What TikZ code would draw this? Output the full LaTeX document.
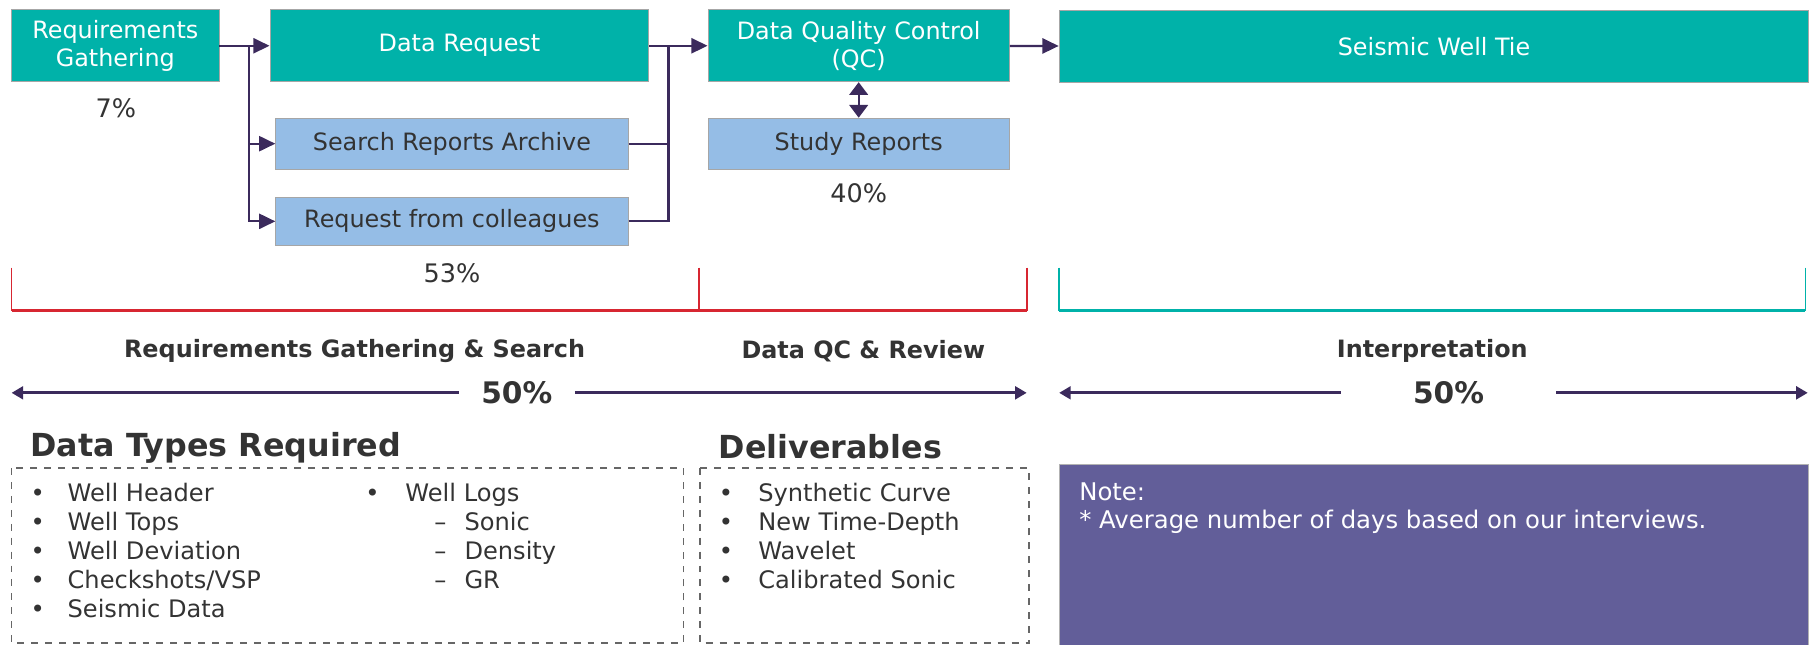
\documentclass[tikz,border=0pt]{standalone}
\usepackage{fontspec}
\setmainfont{DejaVu Sans}
\usetikzlibrary{arrows.meta,positioning,calc}
\definecolor{tealbox}{HTML}{00B2A9}
\definecolor{bluebox}{HTML}{95BDE6}
\definecolor{arrowc}{HTML}{3B2A5C}
\definecolor{notebox}{HTML}{625E99}
\definecolor{redline}{HTML}{D72631}
\definecolor{textc}{HTML}{333333}
\tikzset{
  stage/.style={draw=gray!70,fill=tealbox,text=white,inner sep=0pt,minimum height=31pt,align=center,font=\fontsize{10.3}{12}\selectfont},
  substage/.style={draw=gray!70,fill=bluebox,text=textc,inner sep=0pt,minimum height=22pt,font=\fontsize{10.3}{12}\selectfont},
  flow/.style={arrowc,line width=1pt,-{Triangle[length=7pt,width=6.5pt]}},
  pct/.style={text=textc,font=\fontsize{11}{13}\selectfont},
  pctbig/.style={text=textc,font=\bfseries\fontsize{12.8}{15}\selectfont,inner ysep=0pt},
  phase/.style={text=textc,font=\bfseries\fontsize{10.3}{12}\selectfont},
  span/.style={arrowc,line width=1.2pt},
  listbox/.style={draw=gray!80!black,dashed,line width=0.6pt},
  heading/.style={text=textc,font=\bfseries\fontsize{13.7}{16}\selectfont,anchor=base west,inner sep=0pt},
  items/.style={text=textc,anchor=base west,inner sep=0pt,font=\fontsize{10.4}{12.45}\selectfont}
}
\begin{document}
\begin{tikzpicture}[x=0.5pt,y=-0.5pt]
       \useasboundingbox (0,0) rectangle (1568,556);
       % process boxes
       \node[stage,minimum width=89.5pt] (req) at (99.5,39.5) {Requirements\\Gathering};
       \node[stage,minimum width=163.5pt] (dreq) at (396.5,39.5) {Data Request};
       \node[stage,minimum width=130pt] (qc) at (741,39.5) {Data Quality Control\\(QC)};
       \node[stage,minimum width=323.5pt] (tie) at (1237.5,40) {Seismic Well Tie};
       \node[substage,minimum width=152pt] (search) at (390,124) {Search Reports Archive};
       \node[substage,minimum width=152pt,minimum height=21pt] (ask) at (390,191) {Request from colleagues};
       \node[substage,minimum width=130pt] (study) at (741,124) {Study Reports};
       % connectors
       \coordinate (split) at (215,39.5);
       \coordinate (join) at (577,39.5);
       \draw[flow] (req) -- (dreq);
       \draw[flow] (split) |- (search);
       \draw[flow] (split) |- (ask);
       \draw[arrowc,line width=1pt] (search) -| (join);
       \draw[arrowc,line width=1pt] (ask) -| (join);
       \draw[flow] (dreq) -- (qc);
       \draw[flow] (qc) -- (tie);
       \draw[arrowc,line width=1pt,{Triangle[length=5.5pt,width=8pt]}-{Triangle[length=5.5pt,width=8pt]}] (qc) -- (study);
       \node[pct] (p7) at (100,93) {7\%};
       \node[pct] (p40) at (741,167) {40\%};
       \node[pct] (p53) at (390,236) {53\%};
       % brackets
       \draw[redline,line width=0.7pt] (10,231) -- (10,268) (603,231) -- (603,268) (886,231) -- (886,268);
       \draw[redline,line width=1.6pt] (10,268) -- (886,268);
       \draw[tealbox,line width=0.7pt] (914,231) -- (914,268) (1558,231) -- (1558,268);
       \draw[tealbox,line width=1.6pt] (914,268) -- (1558,268);
       \node[phase] (ph1) at (306,303) {Requirements Gathering \& Search};
       \node[phase] (ph2) at (745,303) {Data QC \& Review};
       \node[phase] (ph3) at (1236,303) {Interpretation};
       % spans
       \node[pctbig,inner xsep=9.5pt] (s1) at (446,339) {50\%};
       \node[pctbig,inner xsep=31pt] (s2) at (1250,339) {50\%};
       \coordinate (s1l) at (10,339);
       \coordinate (s1r) at (886,339);
       \coordinate (s2l) at (914,339);
       \coordinate (s2r) at (1560,339);
       \draw[span,-{Triangle[length=5pt,width=5.5pt]}] (s1) -- (s1l);
       \draw[span,-{Triangle[length=5pt,width=5.5pt]}] (s1) -- (s1r);
       \draw[span,-{Triangle[length=5pt,width=5.5pt]}] (s2) -- (s2l);
       \draw[span,-{Triangle[length=5pt,width=5.5pt]}] (s2) -- (s2r);
       % lists
       \node[heading] (dtr) at (26,394) {Data Types Required};
       \node[heading] (dlv) at (620,396) {Deliverables};
       \draw[listbox] (10,404) rectangle (590,555);
       \draw[listbox] (604,404) rectangle (888,555);
       \node[items] (types) at (26,433) {\begin{tabular}[t]{@{}p{16pt}@{}l@{}}
         • & Well Header\\ • & Well Tops\\ • & Well Deviation\\ • & Checkshots/VSP\\ • & Seismic Data
       \end{tabular}};
       \node[items] (logs) at (315,433) {\begin{tabular}[t]{@{}p{17.25pt}@{}l@{}}
         • & Well Logs\\ & \makebox[25.5pt][l]{\hspace{12.5pt}–}Sonic\\ & \makebox[25.5pt][l]{\hspace{12.5pt}–}Density\\ & \makebox[25.5pt][l]{\hspace{12.5pt}–}GR
       \end{tabular}};
       \node[items] (dels) at (620,433) {\begin{tabular}[t]{@{}p{17pt}@{}l@{}}
         • & Synthetic Curve\\ • & New Time-Depth\\ • & Wavelet\\ • & Calibrated Sonic
       \end{tabular}};
       % note
       \fill[notebox,draw=gray!60,line width=0.4pt] (914,401) rectangle (1561,557);
       \node[anchor=north west,text=white,align=left,inner sep=0pt,font=\fontsize{10.5}{12}\selectfont] (note) at (931,416) {Note:\\* Average number of days based on our interviews.};
     \end{tikzpicture}
\end{document}
